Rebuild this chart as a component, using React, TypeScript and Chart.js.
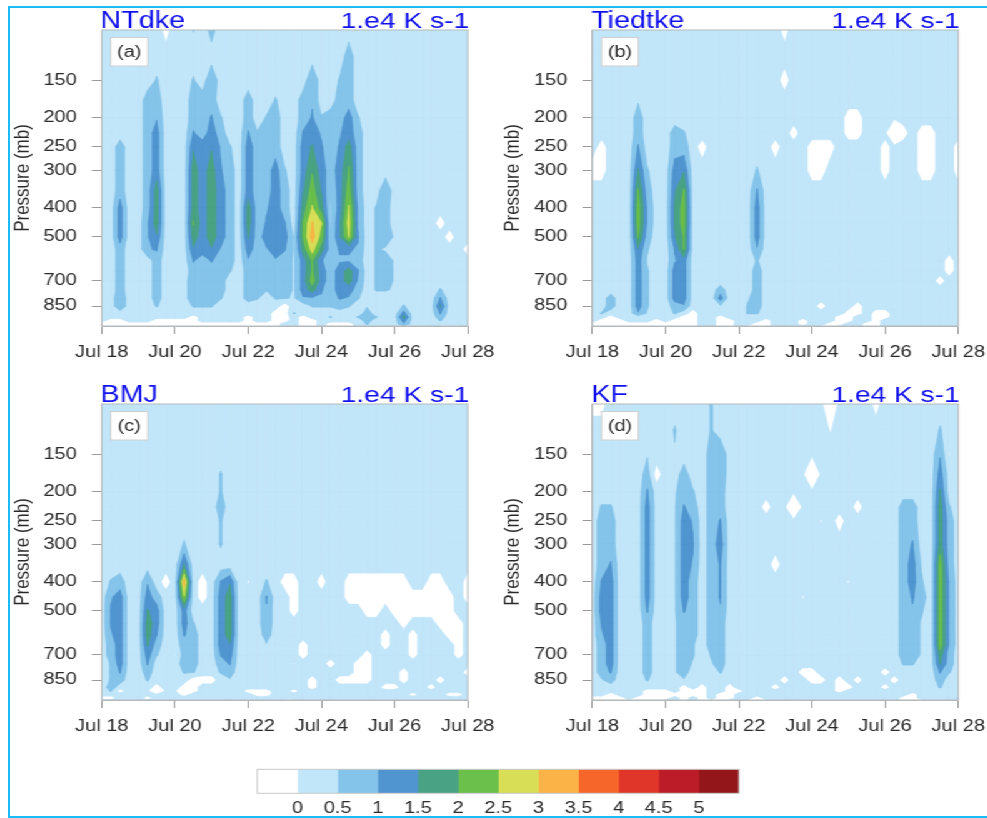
import React, { useEffect, useRef } from "react";
import { Chart, registerables } from "chart.js";
Chart.register(...registerables);

// ---- data ----
const FONT = "'Liberation Sans', Arial, sans-serif";
const PRESSURE_LEVELS = [100,125,150,175,200,225,250,300,350,400,450,500,550,600,650,700,750,800,850,900,925,950,975,1000];
const PRESSURE_TICKS = [150,200,250,300,400,500,700,850];
const DATE_LABELS = ["Jul 18","Jul 20","Jul 22","Jul 24","Jul 26","Jul 28"];
const COLUMN_COUNT = 41; // 6-hourly samples over ten days
const BAND_EDGES = [0,0.5,1,1.5,2,2.5,3,3.5,4,4.5,5];
const BAND_COLORS = ["#c2e6f9","#85c4ea","#5195d0","#4aa284","#6bbf4b","#d8de55","#fbb247","#f66529","#e0362a","#bb1c27","#93161a"];
const COLORBAR_COLORS = ["#ffffff", ...BAND_COLORS];
const COLORBAR_LABELS = ["0","0.5","1","1.5","2","2.5","3","3.5","4","4.5","5"];
// one character per grid value (K s-1 scaled by 1.e4)
const CODE: Record<string, number> = { W:-1.75, "-":-0.25, n:-0.03, ".":0.25, g:0.45, o:0.55, "1":0.75, a:0.95, p:1.05, "2":1.25, b:1.45, q:1.55, "3":1.75, c:1.95, r:2.05, "4":2.25, d:2.45, s:2.55, "5":2.75, e:2.95, t:3.05, "6":3.25 };
const BACKGROUND_VALUE = 0.25;

type Run = [number, number, string]; // time column, first pressure row, values downward
const NTDKE: Run[] = [
[0,0,"......................--"],[1,0,".....................---"],[2,0,"......11122211111aa..---"],[3,0,"......................--"],
[4,0,"......................--"],[5,0,"...1111111aaa.........--"],[6,0,"..o1a222333bp11111o..---"],[7,0,"-....................---"],
[8,0,".....................---"],[9,0,".....................---"],[10,0,"o.o11pb333r3bp1aaao.----"],[11,0,"...111222222211111o...--"],
[12,0,"1.a1p2b33333bp1111o...--"],[13,0,"....o1ap2222a1111o....--"],[14,0,"......o1111111o.......--"],[15,0,"......................--"],
[16,0,"...11p22233q2a1111..----"],[17,0,".....o1111111oo11o....--"],[18,0,"....o1111ap2a111o.....--"],[19,0,"...o111222222a111o.-----"],
[20,0,".......o11p2p1111o----.."],[21,0,"...........ggggggg.o...."],[22,0,"...11p22b3rr32222a..----"],[23,0,"..aap2qc4st65rr43ao..---"],
[24,0,"....oap2b3s43p22pao....."],[25,0,"....1111oggo111111o.o.--"],[26,0,"..o11ap222bbpa222p1...--"],[27,0,".111223r4s5spa332ao...--"],
[28,0,"....o1111aapa1pa1o..o..."],[29,0,"..................g111o."],[30,0,".........oooooooo...o..-"],[31,0,"........a111g111o......."],
[32,0,"...........gggggg......."],[33,0,"..................o232a."],[35,23,"-"],[37,0,"..........-.....opqp1o.-"],
[38,0,"...........-...........-"],[39,23,"-"],[40,12,"-"],
];
const TIEDTKE: Run[] = [
[0,7,"-"],[0,22,"--"],[1,6,"--"],[1,19,"o.---"],[2,17,"11.----"],[3,21,"---"],[4,22,"--"],[5,3,"g11pqr44rb222222a..--"],
[6,7,"o1aa1ogooooog..--"],[7,21,"---"],[8,22,"--"],[9,5,"112bqqbpa22221o.---"],[10,5,"o1br44rr22222a.----"],[11,19,"-----"],
[12,6,"-"],[14,16,"12g.----"],[15,21,"---"],[17,17,"goo"],[17,23,"-"],[18,7,"op222ao11111o..--"],[19,21,"---"],[20,6,"-"],
[21,0,"-"],[21,2,"-"],[22,5,"-"],[23,21,"--"],[24,6,"--"],[25,6,"--"],[25,18,"-"],[25,23,"-"],[26,6,"-"],[26,22,"--"],[27,20,"---"],
[28,4,"--"],[28,19,"---"],[29,4,"--"],[29,18,"--"],[30,22,"--"],[31,19,"-----"],[32,6,"--"],[32,19,"--"],[33,5,"W"],[33,18,"n"],
[34,5,"-"],[36,5,"---"],[37,5,"---"],[38,15,"-"],[39,13,"--"],[40,6,"--"],
];
const BMJ: Run[] = [
[0,22,"-"],[1,9,"oappa11ooo1o.-"],[2,9,"12222222p1.-"],[5,9,"a2q33q2p1o...-"],[6,10,"122p1o"],[6,19,"-W"],[7,9,"-"],
[8,15,"n"],[9,7,"oq6d22p111o.-W-"],[10,12,"o1111o---"],[11,9,"--"],[11,18,"-"],[12,18,"-"],[13,3,"oo1oo.p22222p1o"],
[14,9,"b3333b2p1g"],[16,9,"n"],[16,20,"-"],[16,23,"-"],[17,20,"--"],[18,9,"opaa1g"],[18,20,"--"],[20,9,"-"],[20,23,"-"],
[21,9,"---"],[21,16,"n"],[21,20,"-"],[21,23,"-"],[22,14,"--"],[23,18,"--"],[23,23,"-"],[24,9,"-"],[25,16,"-"],[26,18,"-"],
[27,9,"--"],[27,18,"-"],[28,9,"--"],[28,16,"---"],[29,9,"---"],[29,15,"----"],[30,9,"---"],[31,9,"--"],[31,13,"--"],[31,19,"-"],
[32,9,"---"],[32,19,"-"],[33,9,"----"],[33,17,"--"],[33,23,"-"],[34,10,"--"],[34,13,"---"],[34,21,"-"],[35,10,"--"],[36,9,"---"],
[36,19,"-"],[37,9,"----"],[37,18,"-"],[38,10,"----"],[38,21,"-"],[39,12,"----"],[39,21,"-"],[40,9,"--"],[40,17,"-"],
];
const KF: Run[] = [
[0,0,"-"],[0,22,"--"],[1,0,"-"],[1,5,"o111p22pa1111g...--"],[2,5,"o11p22222222p1..---"],[3,22,"--"],[4,23,"-"],[5,22,"--"],
[6,2,"g1p222222p111111o.----"],[7,3,"-"],[7,20,"----"],[8,20,"---"],[9,1,"og"],[9,4,"gggggggggggggg"],[9,21,"-"],
[10,3,"11p22222p111111g-----"],[11,4,"o1apa11111oog...--"],[12,19,"-----"],[13,0,"oo1111111111111og"],[13,23,"-"],
[14,2,"aa11p2pppa11111o...---"],[15,19,"----"],[16,20,"-"],[17,23,"-"],[18,22,"--"],[19,5,"-"],[19,23,"-"],[20,8,"-"],[20,19,"-"],
[21,18,"-"],[22,5,"W"],[22,23,"-"],[23,10,"n"],[23,17,"-"],[24,3,"W"],[24,17,"--"],[25,6,"n"],[25,18,"-"],[26,0,"Wn"],[26,23,"-"],
[27,6,"-"],[27,18,"---"],[28,9,"n"],[28,19,"-"],[29,5,"-"],[29,18,"-"],[30,23,"-"],[31,0,"-"],[32,17,"-"],[32,19,"-"],[33,18,"-"],
[34,5,"11111111111o"],[34,22,"--"],[35,5,"11p22pa1111o"],[35,21,"---"],[36,8,"go1ogggg"],[36,23,"-"],
[38,1,"oa2q33344444443qp1o"],[38,23,"-"],[39,2,"n"],[39,5,"o111aaaaaa11o"],[40,22,"o"],
];

// ---- layout of the photographed page: the picture is stretched sideways ----
const SX = 1.25;
const PANELS = [
  { name: "NTdke", tag: "(a)", runs: NTDKE, left: 101.7, top: 30 },
  { name: "Tiedtke", tag: "(b)", runs: TIEDTKE, left: 592.4, top: 30 },
  { name: "BMJ", tag: "(c)", runs: BMJ, left: 101.7, top: 404 },
  { name: "KF", tag: "(d)", runs: KF, left: 592.4, top: 404 },
];
const PLOT_W = 366, PLOT_H = 296;
const TEXT_COLOR = "#2a2a2a";

function pointsFrom(runs: Run[]) {
  const grid: number[][] = [];
  for (let c = 0; c < COLUMN_COUNT; c++) grid.push(PRESSURE_LEVELS.map(() => BACKGROUND_VALUE));
  for (const [c, r0, s] of runs) for (let i = 0; i < s.length; i++) if (r0 + i < PRESSURE_LEVELS.length) grid[c][r0 + i] = CODE[s[i]];
  const pts: { x: number; y: number; v: number }[] = [];
  grid.forEach((col, c) => col.forEach((v, r) => pts.push({ x: c / 4, y: PRESSURE_LEVELS[r], v })));
  return pts;
}

function clipCell(corners: { x: number; y: number; v: number }[], t: number) {
  const out: [number, number][] = [];
  for (let i = 0; i < 4; i++) {
    const a = corners[i], b = corners[(i + 1) % 4];
    if (a.v >= t) out.push([a.x, a.y]);
    if ((a.v >= t) !== (b.v >= t)) {
      const f = (t - a.v) / (b.v - a.v);
      out.push([a.x + (b.x - a.x) * f, a.y + (b.y - a.y) * f]);
    }
  }
  return out;
}

const contourPlugin = {
  id: "filledContour",
  beforeDatasetsDraw(chart: any) {
    const { ctx, chartArea: ca, scales } = chart;
    const pts = chart.data.datasets[0].data;
    const nr = PRESSURE_LEVELS.length;
    const px = pts.map((p: any) => ({ x: scales.x.getPixelForValue(p.x), y: scales.y.getPixelForValue(p.y), v: p.v }));
    ctx.save();
    ctx.beginPath();
    ctx.rect(ca.left, ca.top, ca.width, ca.height);
    ctx.clip();
    ctx.fillStyle = "#ffffff";
    ctx.fillRect(ca.left, ca.top, ca.width, ca.height);
    BAND_EDGES.forEach((t, k) => {
      ctx.beginPath();
      let any = false;
      for (let c = 0; c < COLUMN_COUNT - 1; c++) for (let r = 0; r < nr - 1; r++) {
        const i = c * nr + r;
        const poly = clipCell([px[i], px[i + nr], px[i + nr + 1], px[i + 1]], t);
        if (poly.length < 3) continue;
        any = true;
        ctx.moveTo(poly[0][0], poly[0][1]);
        for (let q = 1; q < poly.length; q++) ctx.lineTo(poly[q][0], poly[q][1]);
        ctx.closePath();
      }
      if (any) {
        ctx.fillStyle = BAND_COLORS[k];
        ctx.strokeStyle = BAND_COLORS[k];
        ctx.lineWidth = 0.4;
        ctx.fill();
        ctx.stroke();
      }
    });
    ctx.restore();
  },
  afterDatasetsDraw(chart: any, _a: any, opts: any) {
    const { ctx, chartArea: ca } = chart;
    ctx.save();
    ctx.strokeStyle = "#b4b9bc";
    ctx.lineWidth = 1;
    ctx.strokeRect(ca.left, ca.top, ca.width, ca.height);
    // tag box
    const bx = ca.left + 9 / SX, by = ca.top + 7.5, bw = 37 / SX, bh = 28.5;
    ctx.fillStyle = "#ffffff";
    ctx.fillRect(bx, by, bw, bh);
    ctx.strokeStyle = "#cfcfcf";
    ctx.strokeRect(bx, by, bw, bh);
    ctx.fillStyle = TEXT_COLOR;
    ctx.font = `16px ${FONT}`;
    ctx.textAlign = "center";
    ctx.textBaseline = "middle";
    ctx.fillText(opts.tag, bx + bw / 2, by + bh / 2 + 0.5);
    // left and right strings
    ctx.fillStyle = "#1010ee";
    ctx.font = `23px ${FONT}`;
    ctx.textBaseline = "alphabetic";
    ctx.textAlign = "left";
    ctx.fillText(opts.name, ca.left - 1, ca.top - 2.5);
    ctx.font = `22.5px ${FONT}`;
    ctx.textAlign = "right";
    ctx.fillText("1.e4 K s-1", ca.right + 1, ca.top - 2.5);
    ctx.restore();
  },
};

function ContourPanel({ p }: { p: (typeof PANELS)[number] }) {
  const ref = useRef<HTMLCanvasElement>(null);
  const leftI = Math.round((p.left - 100) / SX);
  const W = Math.round((PLOT_W + 130) / SX);
  const H = PLOT_H + 32 + 45;
  const plotLeft = p.left / SX - leftI;
  const AXIS_W = 73.5, AXIS_H = 40;
  useEffect(() => {
    const chart = new Chart(ref.current!, {
      type: "scatter",
      data: { datasets: [{ data: pointsFrom(p.runs) as any, pointRadius: 0, showLine: false }] },
      plugins: [contourPlugin as any],
      options: {
        animation: false,
        responsive: false,
        layout: { padding: { left: plotLeft - AXIS_W, top: 32, right: W - plotLeft - PLOT_W / SX, bottom: H - 32 - PLOT_H - AXIS_H } },
        plugins: { legend: { display: false }, tooltip: { enabled: false }, filledContour: { tag: p.tag, name: p.name } } as any,
        scales: {
          x: {
            type: "linear", min: 0, max: 10,
            afterFit: (s: any) => { s.height = AXIS_H; s.paddingLeft = 0; s.paddingRight = 0; },
            afterBuildTicks: (s: any) => { s.ticks = DATE_LABELS.map((_, i) => ({ value: i * 2 })); },
            border: { color: "#b4b9bc" },
            grid: { drawOnChartArea: false, tickLength: 8, color: "#9a9a9a" },
            ticks: { autoSkip: false, maxRotation: 0, padding: 9, color: TEXT_COLOR, font: { family: FONT, size: 16 }, callback: (v: any) => DATE_LABELS[Math.round(v / 2)] },
          },
          y: {
            type: "logarithmic", min: 102, max: 991, reverse: true,
            afterFit: (s: any) => { s.width = AXIS_W; s.paddingTop = 0; s.paddingBottom = 0; },
            afterBuildTicks: (s: any) => { s.ticks = PRESSURE_TICKS.map((v) => ({ value: v })); },
            border: { color: "#b4b9bc" },
            grid: { drawOnChartArea: false, tickLength: 8, color: "#9a9a9a" },
            ticks: { autoSkip: false, padding: 12, color: TEXT_COLOR, font: { family: FONT, size: 16 }, callback: (v: any) => String(v) },
            title: { display: true, text: "Pressure (mb)", color: TEXT_COLOR, padding: 0, font: { family: FONT, size: 17 } },
          },
        },
      } as any,
    });
    return () => chart.destroy();
  }, []);
  return <canvas ref={ref} width={W} height={H} style={{ position: "absolute", left: leftI, top: p.top - 32 }} />;
}

function ColorBar() {
  const ref = useRef<HTMLCanvasElement>(null);
  const leftI = 184, W = 432, H = 64;
  const plotLeft = 257.3 / SX - leftI, plotW = (739 - 257.3) / SX;
  useEffect(() => {
    const chart = new Chart(ref.current!, {
      type: "bar",
      data: { labels: [""], datasets: COLORBAR_COLORS.map((color) => ({ data: [1], backgroundColor: color, barPercentage: 1, categoryPercentage: 1 })) },
      plugins: [{
        id: "barFrame",
        afterDatasetsDraw(chart: any) {
          const { ctx, chartArea: ca } = chart;
          ctx.save();
          ctx.strokeStyle = "#c9c9c9";
          ctx.strokeRect(ca.left, ca.top, ca.width, ca.height);
          ctx.restore();
        },
      }],
      options: {
        indexAxis: "y", animation: false, responsive: false,
        layout: { padding: { left: plotLeft, top: 9.3, right: W - plotLeft - plotW, bottom: H - 9.3 - 24 - 25 } },
        plugins: { legend: { display: false }, tooltip: { enabled: false } },
        scales: {
          x: {
            stacked: true, min: 0, max: 12, type: "linear",
            afterFit: (s: any) => { s.height = 25; s.paddingLeft = 0; s.paddingRight = 0; },
            border: { display: false }, grid: { display: false, drawTicks: false },
            ticks: { stepSize: 1, autoSkip: false, maxRotation: 0, padding: 6, color: TEXT_COLOR, font: { family: FONT, size: 16 }, callback: (v: any) => COLORBAR_LABELS[v - 1] ?? "" },
          },
          y: { stacked: true, display: false },
        },
      } as any,
    });
    return () => chart.destroy();
  }, []);
  return <canvas ref={ref} width={W} height={H} style={{ position: "absolute", left: leftI, top: 760 }} />;
}

export default function App() {
  return (
    <div style={{ position: "absolute", left: 0, top: 0, width: 987, height: 818, overflow: "hidden", background: "#fff" }}>
      <div style={{ position: "absolute", left: 8, top: 6, width: 990, height: 808, borderLeft: "2px solid #18bdf8", borderTop: "2px solid #18bdf8", borderBottom: "2px solid #18bdf8" }} />
      <div style={{ position: "absolute", left: 0, top: 0, width: 987 / SX, height: 818, transform: `scaleX(${SX})`, transformOrigin: "0 0" }}>
        {PANELS.map((p) => <ContourPanel key={p.tag} p={p} />)}
        <ColorBar />
      </div>
    </div>
  );
}
